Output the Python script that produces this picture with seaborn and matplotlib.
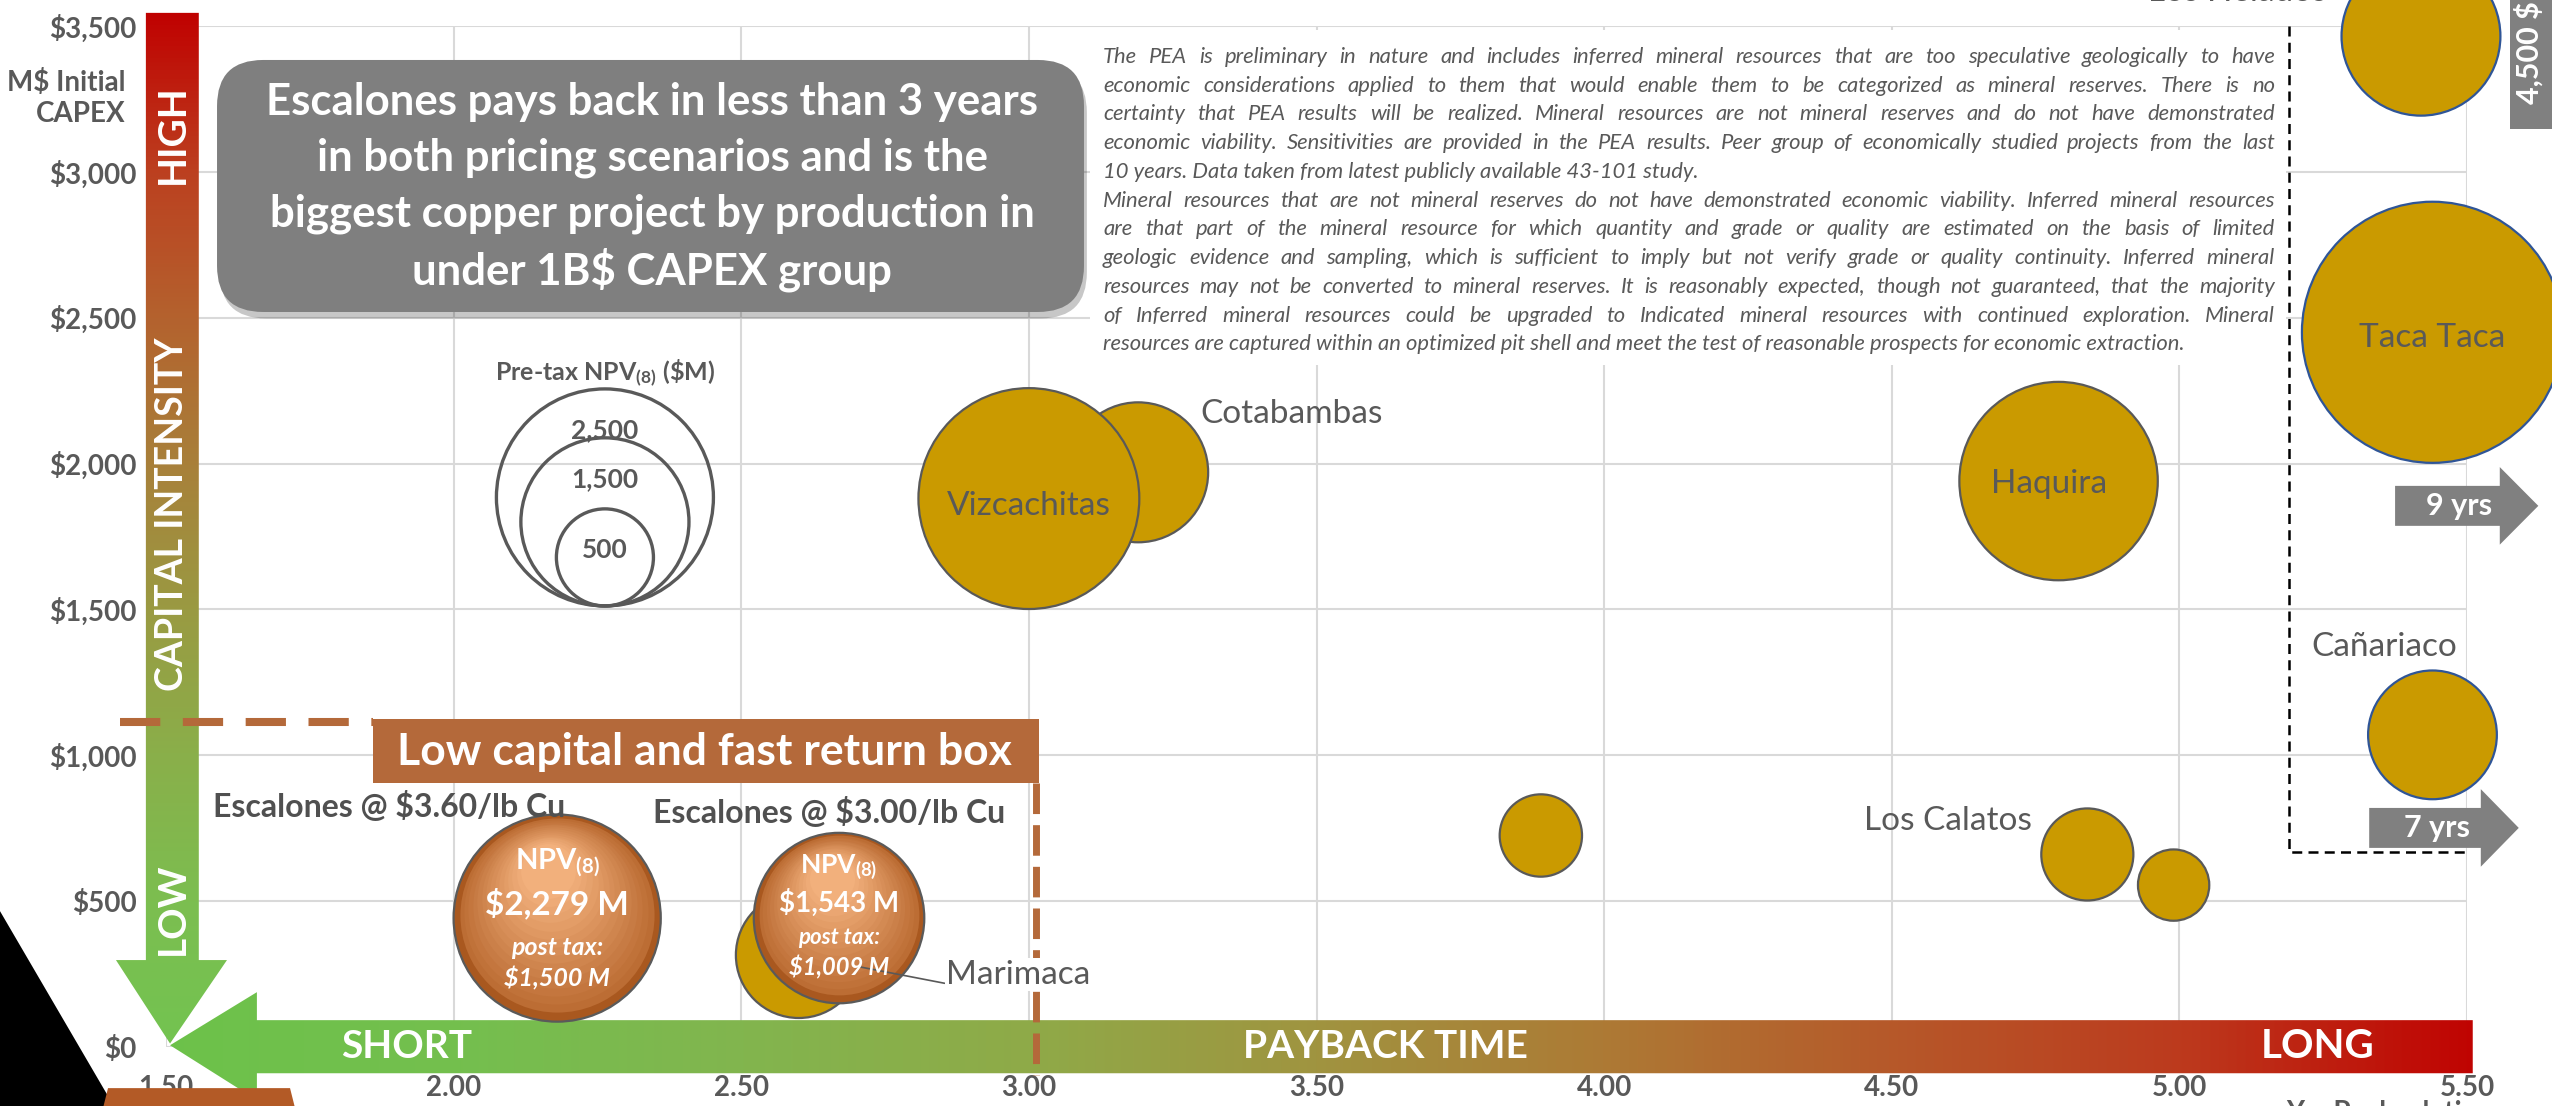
import matplotlib
matplotlib.use("Agg")
import matplotlib.pyplot as plt
from matplotlib.patches import Polygon, Rectangle, FancyBboxPatch
from matplotlib.colors import LinearSegmentedColormap, to_rgb
from matplotlib.transforms import offset_copy
import numpy as np
import pandas as pd
import seaborn as sns

# ---- values ----
peer_names = ["Cotabambas", "Vizcachitas", "Haquira", "Taca Taca", "Los Helados",
              "Cañariaco", "Los Calatos", "", "", "Marimaca"]
peer_payback = [3.19, 3.00, 4.79, 5.44, 5.42, 5.44, 4.84, 3.89, 4.99, 2.60]   # years
peer_capex = [1970, 1880, 1940, 2450, 3465, 1070, 660, 725, 555, 315]       # M$
peer_npv = [1040, 2590, 2090, 3620, 1340, 880, 450, 360, 270, 840]          # pre-tax NPV(8) M$

esc_price = ["$3.60", "$3.00"]
esc_payback = [2.18, 2.67]
esc_capex = [442, 442]
esc_npv_pre = [2279, 1543]
esc_npv_post = [1500, 1009]

legend_npv = [2500, 1500, 500]
x_ticks = [1.5, 2.0, 2.5, 3.0, 3.5, 4.0, 4.5, 5.0, 5.5]
y_ticks = [0, 500, 1000, 1500, 2000, 2500, 3000, 3500]

box_capex = 1115          # low capital / fast return box
box_payback = 3.012
far_payback = 5.19        # dashed box of off-scale peers
far_capex = 669
offscale_labels = ["9 yrs", "7 yrs"]
offscale_capex = [1855, 751]
helados_capex = "4,500 $M"

disclaimer = [
    "The PEA is preliminary in nature and includes inferred mineral resources that are too speculative geologically to have",
    "economic considerations applied to them that would enable them to be categorized as mineral reserves. There is no",
    "certainty that PEA results will be realized. Mineral resources are not mineral reserves and do not have demonstrated",
    "economic viability. Sensitivities are provided in the PEA results. Peer group of economically studied projects from the last",
    "10 years. Data taken from latest publicly available 43-101 study.",
    "Mineral resources that are not mineral reserves do not have demonstrated economic viability. Inferred mineral resources",
    "are that part of the mineral resource for which quantity and grade or quality are estimated on the basis of limited",
    "geologic evidence and sampling, which is sufficient to imply but not verify grade or quality continuity. Inferred mineral",
    "resources may not be converted to mineral reserves. It is reasonably expected, though not guaranteed, that the majority",
    "of Inferred mineral resources could be upgraded to Indicated mineral resources with continued exploration. Mineral",
    "resources are captured within an optimized pit shell and meet the test of reasonable prospects for economic extraction.",
]
paragraph_ends = [4, 10]

callout = ["Escalones pays back in less than 3 years",
           "in both pricing scenarios and is the",
           "biggest copper project by production in",
           "under 1B$ CAPEX group"]

# ---- styles ----
GOLD = "#CA9A00"
GREY = "#595959"
BLUE = "#2F5597"
COPPER = "#B4693A"
ARROW_GREY = "#808080"
SCALE = 9.765            # marker area (pt^2) per M$ of NPV
blue_outline = {"Taca Taca", "Los Helados", "Cañariaco"}
label_offsets = {
    "Cotabambas": (45, 42, "left"),
    "Vizcachitas": (0, -5, "center"),
    "Haquira": (-7, -2, "center"),
    "Taca Taca": (0, -4, "center"),
    "Los Helados": (-68, 32, "right"),
    "Cañariaco": (-35, 63, "center"),
    "Los Calatos": (-40, 24, "right"),
    "Marimaca": (106, -14, "left"),
}
h_stops = [(1.45, "#6CC24A"), (2.0, "#74BF4E"), (2.5, "#82B54E"), (3.0, "#8FAA48"),
           (3.5, "#A09440"), (4.0, "#AD7A35"), (4.5, "#B6592A"), (5.0, "#BC3B1E"),
           (5.55, "#C00000")]
v_stops = [(-50, "#72C450"), (500, "#7CBE50"), (1000, "#8AAF4A"), (1500, "#9A9A42"),
           (2000, "#A8803A"), (2500, "#B4622E"), (3000, "#BC4020"), (3560, "#C00000")]

sns.set_theme(style="whitegrid")
plt.rcParams["font.family"] = ["Lato", "DejaVu Sans"]
plt.rcParams["mathtext.fontset"] = "custom"
plt.rcParams["mathtext.rm"] = "Lato"
plt.rcParams["mathtext.bf"] = "Lato:bold"
plt.rcParams["mathtext.it"] = "Lato:italic"

peers = pd.DataFrame({"project": peer_names, "payback": peer_payback,
                      "capex": peer_capex, "npv": peer_npv})
esc = pd.DataFrame({"price": esc_price, "payback": esc_payback, "capex": esc_capex,
                    "npv": esc_npv_pre, "post": esc_npv_post})

fig = plt.figure(figsize=(25.52, 11.06), dpi=100)
ax = fig.add_axes([0.06505, 0.05335, 0.90164, 0.92315])
ax.set_xlim(1.5, 5.5)
ax.set_ylim(0, 3500)
PT = 72 / fig.dpi


def radius_pts(v):
    return 0.5 * np.sqrt(SCALE * v)


def gradient_arrow(verts, stops, horizontal):
    lo, hi = stops[0][0], stops[-1][0]
    cmap = LinearSegmentedColormap.from_list("g", [((v - lo) / (hi - lo), c) for v, c in stops])
    xs, ys = zip(*verts)
    g = np.linspace(0, 1, 800)
    if horizontal:
        arr, ext = g[None, :], [lo, hi, min(ys), max(ys)]
    else:
        arr, ext = g[:, None], [min(xs), max(xs), lo, hi]
    im = ax.imshow(arr, cmap=cmap, extent=ext, origin="lower", aspect="auto", zorder=2)
    im.set_clip_path(Polygon(verts, closed=True, transform=ax.transData))
    im.set_clip_box(fig.bbox)


# axis arrows
gradient_arrow([(5.51, 92), (1.658, 92), (1.658, 188), (1.507, 6), (1.658, -182),
                (1.658, -90), (5.51, -90)], h_stops, True)
gradient_arrow([(1.465, 3545), (1.557, 3545), (1.557, 298), (1.606, 298), (1.507, 12),
                (1.413, 298), (1.465, 298)], v_stops, False)
ax.set_xlim(1.5, 5.5)
ax.set_ylim(0, 3500)

bar_txt = dict(color="white", fontweight="bold", ha="center", va="center", zorder=6)
ax.text(1.919, 0, "SHORT", fontsize=28, **bar_txt)
ax.text(3.619, 0, "PAYBACK TIME", fontsize=28, **bar_txt)
ax.text(5.241, 0, "LONG", fontsize=29, **bar_txt)
ax.text(1.511, 3130, "HIGH", fontsize=28, rotation=90, **bar_txt)
ax.text(1.511, 1827, "CAPITAL INTENSITY", fontsize=27, rotation=90, **bar_txt)
ax.text(1.511, 473, "LOW", fontsize=28, rotation=90, **bar_txt)

# corner shapes cut by the slide edge
ax.add_patch(Polygon([(1.194, 524), (1.194, -250), (1.4235, -250)], closed=True,
                     fc="black", ec="none", clip_on=False, zorder=2))
ax.add_patch(Polygon([(1.3853, -250), (1.3992, -141), (1.7156, -141), (1.7295, -250)],
                     closed=True, fc="#B35A26", ec="none", clip_on=False, zorder=2))

# ticks / grid
ax.set_xticks(x_ticks)
ax.set_xticklabels([f"{v:.2f}" for v in x_ticks])
ax.set_yticks(y_ticks)
ax.set_yticklabels([f"${v:,.0f}" for v in y_ticks])
ax.tick_params(axis="both", length=0, labelsize=20, labelcolor=GREY)
ax.tick_params(axis="x", pad=20)
ax.tick_params(axis="y", pad=21)
for lab in ax.get_xticklabels() + ax.get_yticklabels():
    lab.set_fontweight("bold")
for s in ax.spines.values():
    s.set_visible(False)
ax.grid(True, color="#D9D9D9", linewidth=1.5)
ax.set_axisbelow(True)
ax.text(1.430, 3253, "M$ Initial\nCAPEX", ha="right", va="center", fontsize=20,
        fontweight="bold", color=GREY, linespacing=1.25, multialignment="right")
ax.text(5.185, -182, "Yrs Payback time", ha="left", va="top", fontsize=20,
        fontweight="bold", color=GREY)

# peer bubbles
for blue, grp in peers.groupby(peers["project"].isin(blue_outline), sort=True):
    sns.scatterplot(data=grp, x="payback", y="capex", size="npv", sizes=(0, SCALE * 4000),
                    size_norm=(0, 4000), color=GOLD, edgecolor=BLUE if blue else GREY,
                    linewidth=1.6, legend=False, ax=ax, zorder=3, clip_on=False)
for _, row in peers.iterrows():
    if not row["project"]:
        continue
    dx, dy, ha = label_offsets[row["project"]]
    arrow, box = None, None
    if row["project"] == "Marimaca":
        arrow = dict(arrowstyle="-", color=GREY, lw=1.2, shrinkA=0,
                     shrinkB=radius_pts(row["npv"]), relpos=(0, 0.2))
        box = dict(fc="white", ec="none", pad=1)
    ax.annotate(row["project"], (row["payback"], row["capex"]), xytext=(dx, dy),
                textcoords="offset points", ha=ha, va="center", fontsize=24,
                color=GREY, zorder=6, arrowprops=arrow, bbox=box)

# Escalones copper spheres
sns.scatterplot(data=esc, x="payback", y="capex", size="npv", sizes=(0, SCALE * 4000),
                size_norm=(0, 4000), color="#A9581F", edgecolor="#5A5A5A", linewidth=1.6,
                legend=False, ax=ax, zorder=4, clip_on=False)
dark, light = np.array(to_rgb("#B8682F")), np.array(to_rgb("#F2B07C"))
n = 16
for _, row in esc.iterrows():
    R = radius_pts(row["npv"])
    for k in range(1, n):
        f = 1 - 0.78 * k / n
        t = k / (n - 1)
        tr = offset_copy(ax.transData, fig=fig, x=-0.12 * R * (1 - f),
                         y=0.62 * R * (1 - f), units="points")
        ax.scatter([row["payback"]], [row["capex"]], s=(2 * R * f * 0.985) ** 2,
                   color=dark * (1 - t) + light * t, linewidths=0, transform=tr,
                   zorder=4 + k * 0.01, clip_on=False)

esc_text = [
    dict(sizes=(21, 24, 18, 18), dy=(39.6, 10.8, -20.9, -43.2), lab=(-248, 80)),
    dict(sizes=(19, 20, 16, 17), dy=(36.7, 10.8, -13.7, -35.3), lab=(-134, 76)),
]
for (_, row), st in zip(esc.iterrows(), esc_text):
    xy = (row["payback"], row["capex"])
    lines = [(r"NPV$_{\mathbf{(8)}}$", "normal"), (f"${row['npv']:,} M", "normal"),
             ("post tax:", "italic"), (f"${row['post']:,} M", "italic")]
    for (txt, style), fs, dy in zip(lines, st["sizes"], st["dy"]):
        ax.annotate(txt, xy, xytext=(0, dy), textcoords="offset points", ha="center",
                    va="center", fontsize=fs, color="white", fontweight="bold",
                    fontstyle=style, zorder=7)
    ax.annotate(f"Escalones @ {row['price']}/lb Cu", xy, xytext=st["lab"],
                textcoords="offset points", ha="left", va="center", fontsize=23,
                fontweight="bold", color="#505050", zorder=7)

# low capital and fast return box
ax.plot([1.42, 1.86], [box_capex, box_capex], color=COPPER, lw=5.8, dashes=(5, 2.8),
        clip_on=False, zorder=4)
ax.plot([box_payback, box_payback], [904, -96], color=COPPER, lw=5.0, dashes=(4.4, 1.6),
        clip_on=False, zorder=4)
ax.add_patch(Rectangle((1.859, 904), box_payback + 0.006 - 1.859, 1124 - 904, fc=COPPER,
                       ec="none", zorder=5))
ax.text((1.859 + box_payback) / 2, 1012, "Low capital and fast return box", ha="center",
        va="center", fontsize=32, fontweight="bold", color="white", zorder=6)

# NPV size legend
leg_x, leg_bottom = 2.263, 1512
for v in legend_npv:
    R = radius_pts(v)
    tr = offset_copy(ax.transData, fig=fig, x=0, y=R, units="points")
    ax.scatter([leg_x], [leg_bottom], s=SCALE * v, facecolors="none", edgecolors=GREY,
               linewidths=2.4, transform=tr, zorder=3)
    ax.annotate(f"{v:,}", (leg_x, leg_bottom), xytext=(0, 2 * R - 41 * PT),
                textcoords="offset points", ha="center", va="center", fontsize=19,
                fontweight="bold", color=GREY, zorder=6)
ax.text(leg_x, 2311, r"Pre-tax NPV$_{\mathbf{(8)}}$ (\$M)", ha="center", va="center",
        fontsize=18, fontweight="bold", color=GREY, zorder=6)

# callout
shadow = FancyBboxPatch((1.5887 + 0.005, 2519.6 - 22), 1.5071, 863.9,
                        boxstyle="round,pad=0,rounding_size=0.08", mutation_aspect=1972,
                        fc="black", ec="none", alpha=0.22, zorder=4.9)
ax.add_patch(shadow)
ax.add_patch(FancyBboxPatch((1.5887, 2519.6), 1.5071, 863.9,
                            boxstyle="round,pad=0,rounding_size=0.08", mutation_aspect=1972,
                            fc="#7F7F7F", ec="none", zorder=5))
for i, line in enumerate(callout):
    ax.annotate(line, (2.345, 2952), xytext=(0, (1.5 - i) * 55.7 * PT),
                textcoords="offset points", ha="center", va="center", fontsize=31.5,
                fontweight="bold", color="white", zorder=6)

# disclaimer, justified
ax.add_patch(Rectangle((3.107, 2338), 5.185 - 3.107, 3486 - 2338, fc="white", ec="none",
                       zorder=1))
renderer = fig.canvas.get_renderer()
dfont = dict(fontsize=15.8, fontstyle="italic", color=GREY)
left, right, top = 3.129, 5.166, 3394
box_w = ax.transData.transform((right, 0))[0] - ax.transData.transform((left, 0))[0]


def width_px(s):
    t = ax.text(0, 0, s, **dfont)
    w = t.get_window_extent(renderer).width
    t.remove()
    return w


for i, line in enumerate(disclaimer):
    dy = -i * 20.7
    if i in paragraph_ends:
        ax.annotate(line, (left, top), xytext=(0, dy), textcoords="offset points",
                    ha="left", va="center", zorder=6, **dfont)
        continue
    words = line.split()
    widths = [width_px(w) for w in words]
    gap = max((box_w - sum(widths)) / (len(words) - 1), 2.0)
    x = 0.0
    for w, wd in zip(words, widths):
        ax.annotate(w, (left, top), xytext=(x * PT, dy), textcoords="offset points",
                    ha="left", va="center", zorder=6, **dfont)
        x += wd + gap

# off-scale peers
ax.plot([far_payback, far_payback, 5.502], [3500, far_capex, far_capex], color="black",
        lw=1.8, dashes=(4, 2.5), clip_on=False, zorder=2.5)
for lab, y, (x0, xh, xt) in zip(offscale_labels, offscale_capex,
                                [(5.375, 5.557, 5.624), (5.330, 5.524, 5.590)]):
    ax.add_patch(Polygon([(x0, y + 68.5), (xh, y + 68.5), (xh, y + 133), (xt, y),
                          (xh, y - 133), (xh, y - 68.5), (x0, y - 68.5)], closed=True,
                         fc=ARROW_GREY, ec="none", clip_on=False, zorder=4))
    ax.text((x0 + xh) / 2 + 0.02, y, lab, ha="center", va="center", fontsize=22,
            fontweight="bold", color="white", zorder=6)
ax.add_patch(Rectangle((5.575, 3147), 0.09, 500, fc=ARROW_GREY, ec="none", clip_on=False,
                       zorder=4))
ax.text(5.608, 3233, helados_capex, rotation=90, ha="center", va="bottom", fontsize=22,
        fontweight="bold", color="white", zorder=6)

ax.set_xlabel("")
ax.set_ylabel("")
ax.set_xlim(1.5, 5.5)
ax.set_ylim(0, 3500)
fig.savefig("out.png", dpi=100, facecolor="white")
